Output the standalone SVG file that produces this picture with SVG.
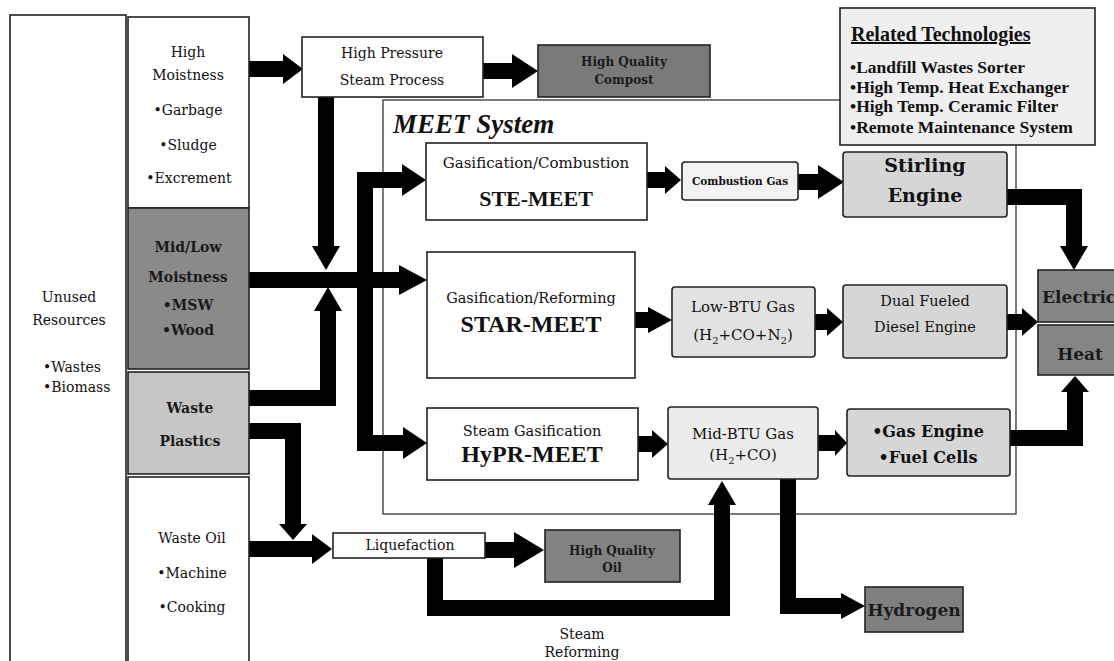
<svg xmlns="http://www.w3.org/2000/svg" width="1114" height="661" viewBox="0 0 1114 661">
<style>
.box{stroke:#222;stroke-width:1.6}
.thin{fill:none;stroke:#333;stroke-width:1.3}
.t{font-family:"DejaVu Serif","Liberation Serif",serif;font-size:14px;fill:#111;text-anchor:middle}
.s{text-anchor:start}
.b{font-weight:bold}
.big{font-family:"Liberation Serif","DejaVu Serif",serif;font-weight:bold;font-size:24px;fill:#111;text-anchor:middle}
.rt{font-family:"Liberation Serif","DejaVu Serif",serif;font-weight:bold;font-size:17.5px;fill:#111}
.dk{fill:#1a1a1a}
.sub{font-size:10px}
.c path{fill:none;stroke:#000;stroke-width:16;stroke-linejoin:miter;stroke-linecap:butt}
</style>
<defs>
<marker id="mA" markerUnits="userSpaceOnUse" markerWidth="20" markerHeight="30" refX="0" refY="15" orient="auto" overflow="visible"><path d="M0,0 L20,15 L0,30 z" fill="#000"/></marker>
<marker id="mB" markerUnits="userSpaceOnUse" markerWidth="26" markerHeight="34" refX="0" refY="17" orient="auto" overflow="visible"><path d="M0,0 L26,17 L0,34 z" fill="#000"/></marker>
<marker id="mC" markerUnits="userSpaceOnUse" markerWidth="16" markerHeight="28" refX="0" refY="14" orient="auto" overflow="visible"><path d="M0,0 L16,14 L0,28 z" fill="#000"/></marker>
<marker id="mD" markerUnits="userSpaceOnUse" markerWidth="24" markerHeight="28" refX="0" refY="14" orient="auto" overflow="visible"><path d="M0,0 L24,14 L0,28 z" fill="#000"/></marker>
<marker id="mE" markerUnits="userSpaceOnUse" markerWidth="30" markerHeight="36" refX="0" refY="18" orient="auto" overflow="visible"><path d="M0,0 L30,18 L0,36 z" fill="#000"/></marker>
<marker id="mF" markerUnits="userSpaceOnUse" markerWidth="28" markerHeight="30" refX="0" refY="15" orient="auto" overflow="visible"><path d="M0,0 L28,15 L0,30 z" fill="#000"/></marker>
<marker id="mG" markerUnits="userSpaceOnUse" markerWidth="24" markerHeight="32" refX="0" refY="16" orient="auto" overflow="visible"><path d="M0,0 L24,16 L0,32 z" fill="#000"/></marker>
<marker id="mH" markerUnits="userSpaceOnUse" markerWidth="24" markerHeight="26" refX="0" refY="13" orient="auto" overflow="visible"><path d="M0,0 L24,13 L0,26 z" fill="#000"/></marker>
<marker id="mI" markerUnits="userSpaceOnUse" markerWidth="12" markerHeight="26" refX="0" refY="13" orient="auto" overflow="visible"><path d="M0,0 L12,13 L0,26 z" fill="#000"/></marker>
</defs>
<rect width="1114" height="661" fill="#fff"/>

<g id="meet-system">
<rect class="thin" x="383" y="100" width="633" height="414"/>
<text x="393" y="133" style="font-family:'Liberation Serif','DejaVu Serif',serif;font-weight:bold;font-style:italic;font-size:27px;fill:#111">MEET System</text>
</g>

<g id="connectors" class="c">
<path d="M249,69 H283" marker-end="url(#mA)"/>
<path d="M483,71 H512" stroke-width="17" marker-end="url(#mB)"/>
<path d="M326,97 V246" stroke-width="15" marker-end="url(#mD)"/>
<path d="M249,398 H328 V311" stroke-width="17" marker-end="url(#mD)"/>
<path d="M249,280 H399" marker-end="url(#mF)"/>
<path d="M365,288 V180 H402" stroke-width="15" marker-end="url(#mG)"/>
<path d="M365,272 V443 H403" stroke-width="15" marker-end="url(#mG)"/>
<path d="M647,180 H665" stroke-width="17" marker-end="url(#mC)"/>
<path d="M798,182 H818" stroke-width="20" marker-end="url(#mB)"/>
<path d="M1007,197 H1074 V246" stroke-width="17" marker-end="url(#mD)"/>
<path d="M635,320 H648" stroke-width="14" marker-end="url(#mH)"/>
<path d="M815,322 H827" stroke-width="18" marker-end="url(#mC)"/>
<path d="M1007,322 H1022" stroke-width="18" marker-end="url(#mC)"/>
<path d="M638,444 H652" stroke-width="15" marker-end="url(#mC)"/>
<path d="M818,443 H835" stroke-width="13" marker-end="url(#mI)"/>
<path d="M1010,438 H1075 V392" stroke-width="14" marker-end="url(#mC)"/>
<path d="M249,431 H293 V524" stroke-width="16" marker-end="url(#mC)"/>
<path d="M249,549 H312" stroke-width="17" marker-end="url(#mA)"/>
<path d="M485,550 H514" stroke-width="16" marker-end="url(#mE)"/>
<path d="M435,558 V608 H722 V505" stroke-width="14" marker-end="url(#mD)"/>
<path d="M788,479 V606 H841" stroke-width="13" marker-end="url(#mH)"/>
</g>

<g id="unused-resources">
<rect class="box" x="10" y="15" width="116" height="660" fill="#fff"/>
<text class="t" x="69" y="302">Unused</text>
<text class="t" x="69" y="325">Resources</text>
<text class="t s" x="43" y="372">•Wastes</text>
<text class="t s" x="43" y="392">•Biomass</text>
</g>

<g id="high-moistness">
<rect class="box" x="128" y="17" width="121" height="191" fill="#fff"/>
<text class="t" x="188" y="57">High</text>
<text class="t" x="188" y="80">Moistness</text>
<text class="t" x="188" y="115">•Garbage</text>
<text class="t" x="188" y="150">•Sludge</text>
<text class="t" x="189" y="183">•Excrement</text>
</g>

<g id="mid-low-moistness">
<rect class="box" x="128" y="208" width="121" height="161" fill="#8a8a8a"/>
<text class="t b dk" x="188" y="252">Mid/Low</text>
<text class="t b dk" x="188" y="282">Moistness</text>
<text class="t b dk" x="188" y="310">•MSW</text>
<text class="t b dk" x="188" y="335">•Wood</text>
</g>

<g id="waste-plastics">
<rect class="box" x="128" y="372" width="121" height="102" fill="#c6c6c6"/>
<text class="t b dk" x="190" y="413">Waste</text>
<text class="t b dk" x="190" y="446">Plastics</text>
</g>

<g id="waste-oil">
<rect class="box" x="128" y="477" width="121" height="200" fill="#fff"/>
<text class="t" x="192" y="543">Waste Oil</text>
<text class="t" x="192" y="578">•Machine</text>
<text class="t" x="192" y="612">•Cooking</text>
</g>

<g id="high-pressure-steam">
<rect class="box" x="302" y="37" width="181" height="60" fill="#fff"/>
<text class="t" x="392" y="58">High Pressure</text>
<text class="t" x="392" y="85">Steam Process</text>
</g>

<g id="high-quality-compost">
<rect class="box" x="538" y="45" width="172" height="52" fill="#7a7a7a"/>
<text class="t b dk" x="624" y="66" style="font-size:12px">High Quality</text>
<text class="t b dk" x="624" y="84" style="font-size:12px">Compost</text>
</g>

<g id="related-technologies">
<rect class="box" x="840" y="8" width="255" height="137" fill="#efefef"/>
<text class="rt" x="851" y="41" style="font-size:20px;text-decoration:underline">Related Technologies</text>
<text class="rt" x="850" y="73">•Landfill Wastes Sorter</text>
<text class="rt" x="850" y="93">•High Temp. Heat Exchanger</text>
<text class="rt" x="850" y="112">•High Temp. Ceramic Filter</text>
<text class="rt" x="850" y="133">•Remote Maintenance System</text>
</g>

<g id="ste-meet">
<rect class="box" x="426" y="143" width="221" height="77" fill="#fff"/>
<text class="t" x="536" y="168" style="font-size:15px">Gasification/Combustion</text>
<text class="big" x="536" y="206" style="font-size:22px">STE-MEET</text>
</g>

<g id="combustion-gas">
<rect class="box" x="682" y="162" width="116" height="38" rx="3" fill="#f2f2f2"/>
<text class="t b" x="740" y="185" style="font-size:10.5px">Combustion Gas</text>
</g>

<g id="stirling-engine">
<rect class="box" x="843" y="152" width="164" height="65" rx="3" fill="#d6d6d6"/>
<text class="t b" x="925" y="172" style="font-size:19px">Stirling</text>
<text class="t b" x="925" y="202" style="font-size:19px">Engine</text>
</g>

<g id="star-meet">
<rect class="box" x="427" y="252" width="208" height="126" fill="#fff"/>
<text class="t" x="531" y="303" style="font-size:14.5px">Gasification/Reforming</text>
<text class="big" x="531" y="332">STAR-MEET</text>
</g>

<g id="low-btu-gas">
<rect class="box" x="672" y="287" width="143" height="70" rx="3" fill="#e2e2e2"/>
<text class="t" x="743" y="312" style="font-size:15px">Low-BTU Gas</text>
<text class="t" x="743" y="340" style="font-size:15px">(H<tspan class="sub" dy="4">2</tspan><tspan dy="-4">+CO+N</tspan><tspan class="sub" dy="4">2</tspan><tspan dy="-4">)</tspan></text>
</g>

<g id="dual-fueled-diesel">
<rect class="box" x="843" y="285" width="164" height="73" rx="3" fill="#d6d6d6"/>
<text class="t" x="925" y="306" style="font-size:14.5px">Dual Fueled</text>
<text class="t" x="925" y="332" style="font-size:14.5px">Diesel Engine</text>
</g>

<g id="electric">
<rect class="box" x="1038" y="270" width="90" height="52" fill="#858585"/>
<text class="t s b dk" x="1042" y="303" style="font-size:17px">Electric</text>
</g>

<g id="heat">
<rect class="box" x="1038" y="325" width="90" height="50" fill="#858585"/>
<text class="t b dk" x="1080" y="360" style="font-size:17px">Heat</text>
</g>

<g id="hypr-meet">
<rect class="box" x="427" y="408" width="211" height="72" fill="#fff"/>
<text class="t" x="532" y="436" style="font-size:14.5px">Steam Gasification</text>
<text class="big" x="532" y="462">HyPR-MEET</text>
</g>

<g id="mid-btu-gas">
<rect class="box" x="668" y="407" width="150" height="72" rx="3" fill="#ececec"/>
<text class="t" x="743" y="439" style="font-size:15px">Mid-BTU Gas</text>
<text class="t" x="743" y="460" style="font-size:15px">(H<tspan class="sub" dy="4">2</tspan><tspan dy="-4">+CO)</tspan></text>
</g>

<g id="gas-engine-fuel-cells">
<rect class="box" x="847" y="409" width="163" height="67" rx="3" fill="#d6d6d6"/>
<text class="t b" x="928" y="437" style="font-size:16px">•Gas Engine</text>
<text class="t b" x="928" y="463" style="font-size:16px">•Fuel Cells</text>
</g>

<g id="liquefaction">
<rect class="box" x="333" y="533" width="152" height="25" fill="#fff"/>
<text class="t" x="410" y="550">Liquefaction</text>
</g>

<g id="high-quality-oil">
<rect class="box" x="545" y="530" width="135" height="52" fill="#828282"/>
<text class="t b dk" x="612" y="555" style="font-size:12px">High Quality</text>
<text class="t b dk" x="612" y="572" style="font-size:12px">Oil</text>
</g>

<g id="hydrogen">
<rect class="box" x="865" y="587" width="98" height="45" fill="#808080"/>
<text class="t b dk" x="914" y="616" style="font-size:17px">Hydrogen</text>
</g>

<g id="steam-reforming-label">
<text class="t" x="582" y="639">Steam</text>
<text class="t" x="582" y="657">Reforming</text>
</g>
</svg>
